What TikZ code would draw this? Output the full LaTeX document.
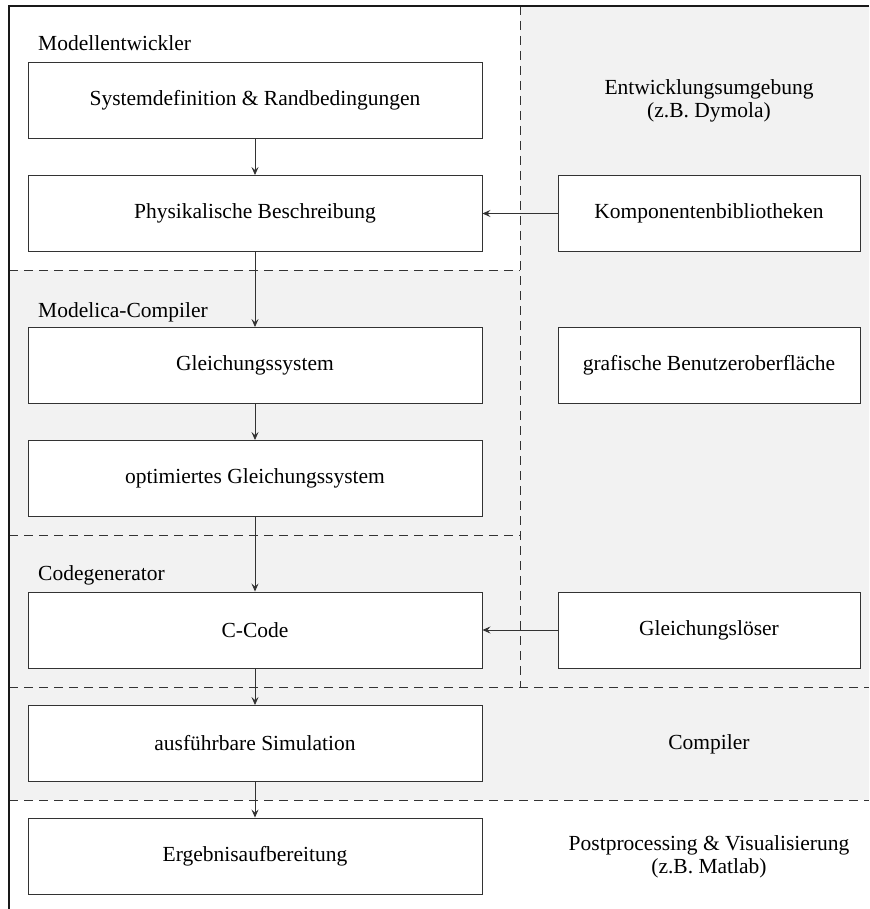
\documentclass[tikz,border=0pt]{standalone}
\usepackage{fontspec}
\setmainfont{Liberation Serif}
\usetikzlibrary{arrows.meta}
\definecolor{bggray}{HTML}{F2F2F2}
\definecolor{linegray}{HTML}{333333}
\newcommand{\txtfont}{\fontsize{21.5}{23.5}\selectfont}
\begin{document}
\begin{tikzpicture}[x=1pt,y=-1pt,
  box/.style={draw=linegray, line width=0.9pt, fill=white, minimum width=454pt, minimum height=76pt, inner sep=0pt, font=\txtfont},
  rbox/.style={box, minimum width=302pt},
  sepline/.style={draw=linegray, line width=0.9pt, dash pattern=on 9pt off 6pt},
  arr/.style={draw=linegray, line width=0.9pt, -{Stealth[length=8pt,width=7pt,inset=3pt]}},
  lbl/.style={anchor=base west, inner sep=0pt, font=\txtfont},
  rlbl/.style={align=center, inner sep=0pt, font=\txtfont}
]
\useasboundingbox (0,0) rectangle (869,909);
\fill[bggray] (9,270) -- (520,270) -- (520,6) -- (869,6) -- (869,800) -- (9,800) -- cycle;
\draw[sepline] (520,6) -- (520,687);
\draw[sepline] (9,270) -- (520,270);
\draw[sepline] (9,535) -- (520,535);
\draw[sepline] (9,687) -- (869,687);
\draw[sepline] (9,800) -- (869,800);
\draw[line width=1.3pt, black!90] (869,6) -- (9,6) -- (9,909);

% section labels
\node[lbl] (l1) at (38,51) {Modellentwickler};
\node[lbl] (l2) at (38,317) {Modelica-Compiler};
\node[lbl] (l3) at (38,580) {Codegenerator};

% left boxes
\node[box] (b1) at (255,100) {Systemdefinition \& Randbedingungen};
\node[box] (b2) at (255,213.5) {Physikalische Beschreibung};
\node[box] (b3) at (255,365.5) {Gleichungssystem};
\node[box] (b4) at (255,478.5) {optimiertes Gleichungssystem};
\node[box] (b5) at (255,630) {C-Code};
\node[box] (b6) at (255,743.5) {ausführbare Simulation};
\node[box] (b7) at (255,856) {Ergebnisaufbereitung};

% right boxes
\node[rbox] (r1) at (709,213.5) {Komponentenbibliotheken};
\node[rbox] (r2) at (709,365.5) {grafische Benutzeroberfläche};
\node[rbox] (r3) at (709,630) {Gleichungslöser};

% right labels
\node[rlbl] (t1) at (709,101) {Entwicklungsumgebung\\(z.B. Dymola)};
\node[rlbl] (t2) at (709,744) {Compiler};
\node[rlbl] (t3) at (709,857) {Postprocessing \& Visualisierung\\(z.B. Matlab)};

% arrows
\draw[arr] (b1) -- (b2);
\draw[arr] (b2) -- (b3);
\draw[arr] (b3) -- (b4);
\draw[arr] (b4) -- (b5);
\draw[arr] (b5) -- (b6);
\draw[arr] (b6) -- (b7);
\draw[arr] (r1) -- (b2);
\draw[arr] (r3) -- (b5);
\end{tikzpicture}
\end{document}
